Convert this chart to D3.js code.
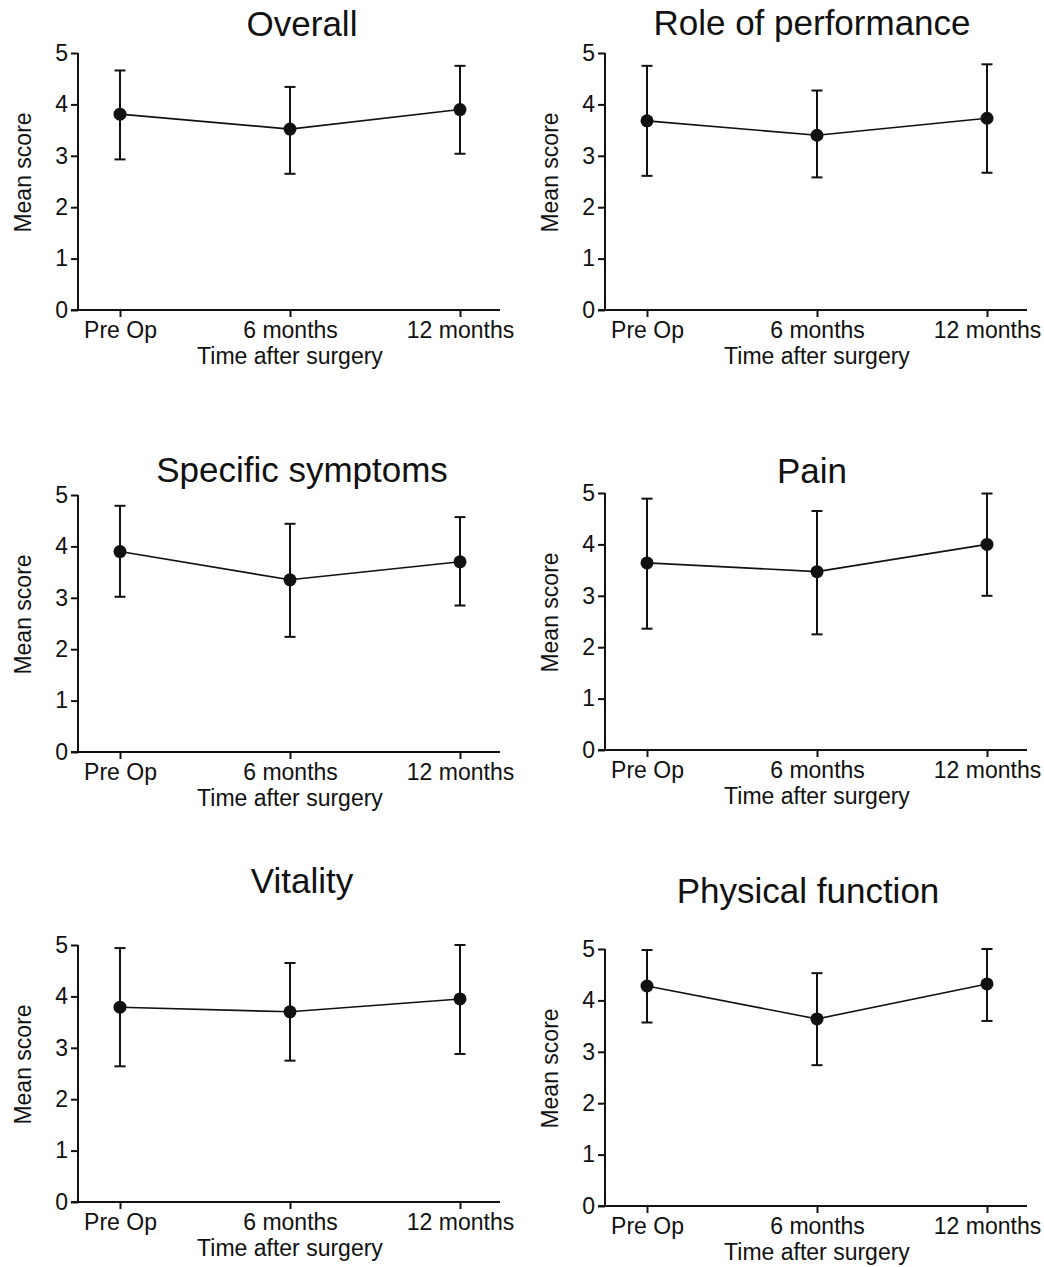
<!DOCTYPE html>
<html>
<head>
<meta charset="utf-8">
<script src="https://cdn.jsdelivr.net/npm/d3@7"></script>
<style>
  body { margin: 0; background: #fff; }
  text { font-family: "Liberation Sans", Arial, sans-serif; fill: #111; }
</style>
</head>
<body>
<div id="chart"></div>
<script>
// chart data
const categories = ["Pre Op", "6 months", "12 months"]
const titles = ["Overall", "Role of performance", "Specific symptoms", "Pain", "Vitality", "Physical function"]
const yTicks = [0, 1, 2, 3, 4, 5]

const means = [
  [3.81, 3.52, 3.90],
  [3.68, 3.40, 3.73],
  [3.90, 3.35, 3.70],
  [3.64, 3.47, 4.00],
  [3.79, 3.70, 3.95],
  [4.28, 3.64, 4.32]
]
const upperBars = [
  [4.66, 4.34, 4.75],
  [4.75, 4.27, 4.78],
  [4.79, 4.44, 4.57],
  [4.89, 4.65, 4.99],
  [4.94, 4.65, 5.00],
  [4.98, 4.53, 5.00]
]
const lowerBars = [
  [2.93, 2.65, 3.04],
  [2.61, 2.58, 2.67],
  [3.02, 2.24, 2.85],
  [2.36, 2.25, 3.00],
  [2.64, 2.75, 2.88],
  [3.57, 2.74, 3.60]
]

// panel placement: left of y axis, top of plot, title baseline
const panelX = [78, 605, 78, 605, 78, 605]
const panelTop = [53, 53, 495, 493, 945, 949]
const titleY = [36, 35, 482, 483, 893, 903]
const titleX = [302, 812, 302, 812, 302, 808]

const plotW = 422, plotH = 257
const ink = "#111"

let svg = d3.select("#chart")
  .append("svg")
  .attr("width", 1044)
  .attr("height", 1267)

let x = d3.scalePoint()
  .domain(categories)
  .range([42, 382])

let y = d3.scaleLinear()
  .domain([0, 5])
  .range([plotH, 0])

titles.forEach((title, i) => {
  svg.append("text")
    .attr("x", titleX[i])
    .attr("y", titleY[i])
    .attr("text-anchor", "middle")
    .style("font-size", "35px")
    .text(title)

  let g = svg.append("g")
    .attr("transform", `translate(${panelX[i]},${panelTop[i]})`)

  // y axis
  let ya = g.append("g")
    .call(d3.axisLeft(y).tickValues(yTicks).tickSize(7).tickPadding(3).tickFormat(d3.format("d")))
  ya.select(".domain").remove()
  ya.selectAll("line").attr("stroke", ink).attr("stroke-width", 2)
  ya.selectAll("text").style("font-size", "23px").attr("fill", ink)
  g.append("line")
    .attr("x1", 0).attr("x2", 0)
    .attr("y1", y(5)).attr("y2", y(0))
    .attr("stroke", ink).attr("stroke-width", 2)

  // x axis
  let xa = g.append("g")
    .attr("transform", `translate(0,${plotH})`)
    .call(d3.axisBottom(x).tickSize(7).tickPadding(5))
  xa.select(".domain").remove()
  xa.selectAll("line").attr("stroke", ink).attr("stroke-width", 2)
  xa.selectAll("text").style("font-size", "23px").attr("fill", ink)
  g.append("line")
    .attr("x1", -7).attr("x2", plotW)
    .attr("y1", plotH).attr("y2", plotH)
    .attr("stroke", ink).attr("stroke-width", 2)

  g.append("text")
    .attr("x", 212)
    .attr("y", plotH + 54)
    .attr("text-anchor", "middle")
    .style("font-size", "23px")
    .text("Time after surgery")

  g.append("text")
    .attr("transform", `translate(${-47},${plotH / 2 - 9}) rotate(-90)`)
    .attr("text-anchor", "middle")
    .style("font-size", "23px")
    .text("Mean score")

  // connecting line
  g.append("path")
    .datum(means[i])
    .attr("fill", "none")
    .attr("stroke", ink)
    .attr("stroke-width", 1.6)
    .attr("d", d3.line().x((d, j) => x(categories[j])).y(d => y(d)))

  // error bars
  categories.forEach((c, j) => {
    let cx = x(c)
    g.append("line")
      .attr("x1", cx).attr("x2", cx)
      .attr("y1", y(upperBars[i][j])).attr("y2", y(lowerBars[i][j]))
      .attr("stroke", ink).attr("stroke-width", 2)
    ;[upperBars[i][j], lowerBars[i][j]].forEach(v => {
      g.append("line")
        .attr("x1", cx - 5.5).attr("x2", cx + 5.5)
        .attr("y1", y(v)).attr("y2", y(v))
        .attr("stroke", ink).attr("stroke-width", 2)
    })
    g.append("circle")
      .attr("cx", cx)
      .attr("cy", y(means[i][j]))
      .attr("r", 6.5)
      .attr("fill", ink)
  })
})
</script>
</body>
</html>
